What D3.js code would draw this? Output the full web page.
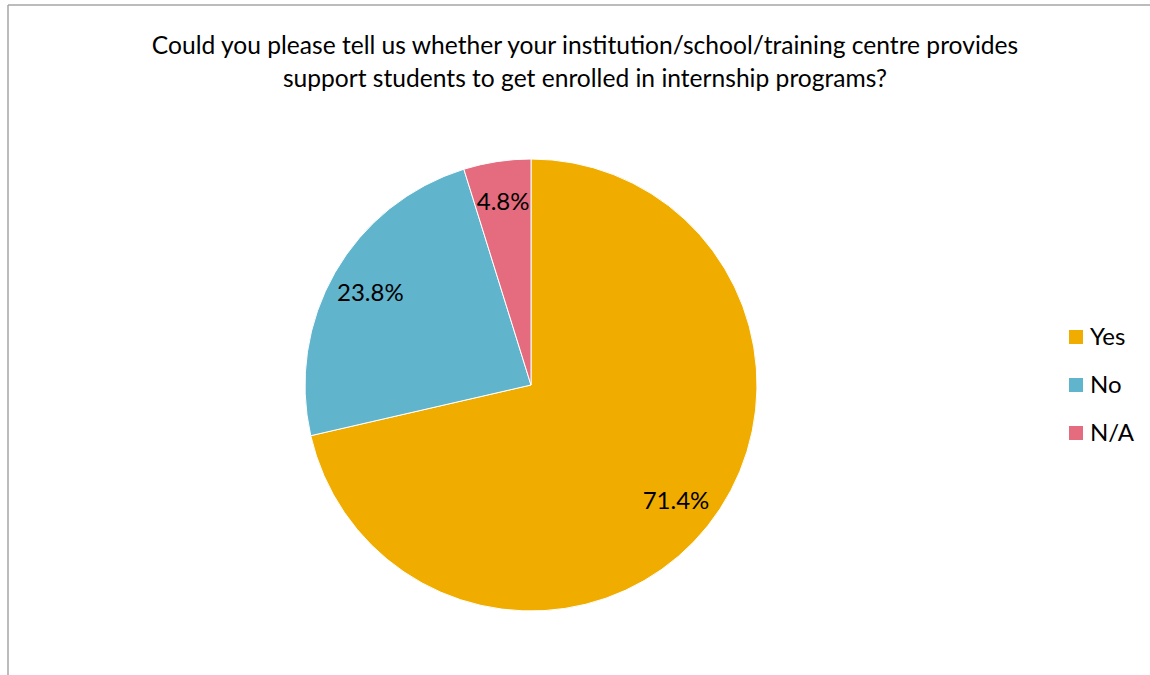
<!DOCTYPE html>
<html>
  <head>
    <meta charset="utf-8">
    <title>Internship support</title>
    <script src="https://d3js.org/d3.v7.min.js"></script>
    <style>
      body { margin: 0; background: #fff; }
      svg text { font-family: Lato, "Open Sans", sans-serif; fill: #000; }
    </style>
  </head>
  <body>
    <svg id="chart" width="1150" height="675"></svg>
    <script>
      // data
      categories = ["Yes", "No", "N/A"];
      values = [71.4, 23.8, 4.8];
      colours = ["#F0AD00", "#60B4CC", "#E56B7E"];
      titleLines = [
        "Could you please tell us whether your institution/school/training centre provides",
        "support students to get enrolled in internship programs?"
      ];

      chart = d3.select("#chart");

      // frame (left and top edges only visible)
      chart.append("line")
        .attr("x1", 8).attr("y1", 5).attr("x2", 8).attr("y2", 675)
        .attr("stroke", "#a6a6a6").attr("stroke-width", 1.5);
      chart.append("line")
        .attr("x1", 8).attr("y1", 5).attr("x2", 1150).attr("y2", 5)
        .attr("stroke", "#a6a6a6").attr("stroke-width", 1.5);

      // title
      chart.append("g")
        .selectAll("text")
        .data(titleLines)
        .join("text")
          .attr("x", 585)
          .attr("y", function(d, i) { return 54 + i * 33; })
          .attr("text-anchor", "middle")
          .style("font-size", "24.6px")
          .text(function(d) { return d; });

      // pie
      radius = 226;
      pie = d3.pie().sort(null).value(function(d) { return d; });
      arc = d3.arc().innerRadius(0).outerRadius(radius);
      labelArc = d3.arc().innerRadius(radius * 0.82).outerRadius(radius * 0.82);
      arcs = pie(values);

      pieGroup = chart.append("g")
        .attr("transform", "translate(531, 385)");
      pieGroup.selectAll("path")
        .data(arcs)
        .join("path")
          .attr("d", arc)
          .attr("fill", function(d, i) { return colours[i]; })
          .attr("stroke", "#fff")
          .attr("stroke-width", 1);
      pieGroup.selectAll("text")
        .data(arcs)
        .join("text")
          .attr("transform", function(d) { return "translate(" + labelArc.centroid(d) + ")"; })
          .attr("text-anchor", "middle")
          .attr("dy", "0.35em")
          .style("font-size", "24px")
          .text(function(d) { return d.data.toFixed(1) + "%"; });

      // legend
      legend = chart.append("g")
        .attr("transform", "translate(1069, 337)");
      items = legend.selectAll("g")
        .data(categories)
        .join("g")
          .attr("transform", function(d, i) { return "translate(0," + i * 48 + ")"; });
      items.append("rect")
        .attr("x", 0).attr("y", -7)
        .attr("width", 14).attr("height", 14)
        .attr("fill", function(d, i) { return colours[i]; });
      items.append("text")
        .attr("x", 21)
        .attr("dy", "0.35em")
        .style("font-size", "24px")
        .text(function(d) { return d; });
    </script>
  </body>
</html>
